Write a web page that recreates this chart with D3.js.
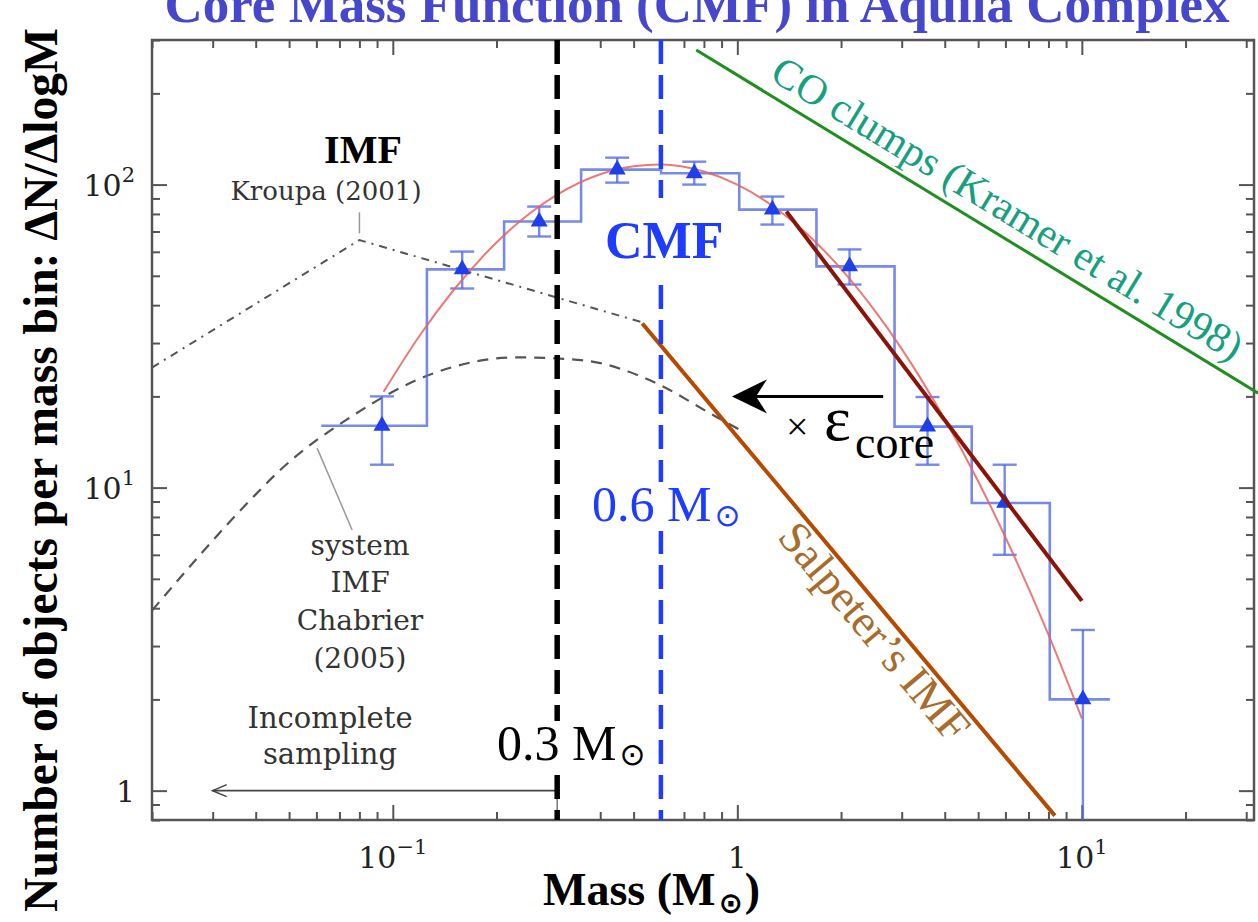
<!DOCTYPE html>
<html>
<head>
<meta charset="utf-8">
<script src="https://cdn.jsdelivr.net/npm/d3@7"></script>
<style>
  body { margin: 0; background: #fff; }
  svg { display: block; }
</style>
</head>
<body>
<svg id="chart" width="1258" height="922"></svg>
<script>
// ---------- data ----------
// CMF histogram (bin edges in solar masses, counts per log-mass bin)
const binEdges  = [0.062, 0.1256, 0.2104, 0.352, 0.601, 1.013, 1.697, 2.86, 4.79, 8.07, 12.06];
const binCounts = [16.0, 52.5, 75.5, 112, 109, 82.7, 53.7, 15.9, 8.9, 2.0];

// CMF points with error bars
const pointMass  = [0.093, 0.159, 0.266, 0.448, 0.75, 1.264, 2.117, 3.565, 5.97, 10.07];
const pointCount = [16.0, 52.5, 75.5, 112, 109, 82.7, 53.7, 15.9, 8.9, 2.0];
const errHigh    = [20.0, 60.1, 84.6, 122.7, 119, 91.3, 61.1, 19.9, 11.9, 3.39];
const errLow     = [11.9, 45.4, 67.4, 101.5, 100, 73.8, 46.8, 11.9, 6.0, 0.5];

// log-normal fit to the CMF
const fitMass  = [0.094, 0.12, 0.15, 0.2, 0.25, 0.3, 0.4, 0.5, 0.6, 0.8, 1.0, 1.3, 1.6, 2, 2.5, 3, 4, 5, 6, 8, 10];
const fitCount = [20.7, 31.9, 44.8, 64.4, 80.4, 92.7, 108.2, 115.0, 116.4, 110.4, 100, 83.2, 68.4, 52.7, 38.5, 28.7, 16.8, 10.5, 6.86, 3.27, 1.73];

// high-mass power law of the CMF
const powerMass  = [1.388, 10];
const powerCount = [81.5, 4.23];

// Salpeter slope
const salpeterMass  = [0.53, 8.35];
const salpeterCount = [34.8, 0.827];

// CO clump mass spectrum
const coMass  = [0.76, 32.5];
const coCount = [278, 20.5];

// Kroupa (2001) IMF
const kroupaMass  = [0.02, 0.08, 0.53];
const kroupaCount = [24.9, 65.6, 35.1];

// Chabrier (2005) system IMF
const chabrierMass  = [0.02, 0.0385, 0.047, 0.0752, 0.1308, 0.2293, 0.3566, 0.558, 0.873, 1.018];
const chabrierCount = [3.93, 9.08, 11.4, 17.06, 23.8, 26.9, 26.3, 22.6, 17.06, 15.5];

// reference masses
const completenessMass = 0.3;
const peakMass = 0.6;

// efficiency arrow (count level, from mass, to mass)
const epsArrow = { count: 20, from: 2.65, to: 0.965 };
// incompleteness arrow
const incompleteArrow = { count: 1, from: 0.3, to: 0.03 };

// axis labels
const xMajor = [0.1, 1, 10];
const xMajorLabels = [["10", "\u22121"], ["1", ""], ["10", "1"]];
const yMajor = [1, 10, 100];
const yMajorLabels = [["1", ""], ["10", "1"], ["10", "2"]];

// ---------- layout ----------
const svg = d3.select("#chart");
const plotL = 152, plotR = 1254, plotT = 40, plotB = 820;

const x = d3.scaleLog().domain([0.02, 31.6]).range([plotL, plotR]);
const y = d3.scaleLog().domain([0.8, 300]).range([plotB, plotT]);

const serif = "'Liberation Serif', 'Times New Roman', serif";
const plotFont = "'DejaVu Serif', serif";
const axisGray = "#555";

// minor tick positions
function minors(domain) {
  const out = [];
  for (let d = -3; d <= 3; d++) {
    for (let k = 2; k <= 9; k++) {
      const v = k * Math.pow(10, d);
      if (v >= domain[0] * 0.999 && v <= domain[1] * 1.001) out.push(v);
    }
  }
  return out;
}
const xMinor = minors(x.domain());
const yMinor = minors(y.domain());

function ticks(axisFn, values, size, transform) {
  svg.append("g")
    .attr("transform", transform)
    .call(axisFn.tickValues(values).tickSize(size).tickSizeOuter(0).tickFormat(""))
    .call(g => g.select(".domain").remove())
    .call(g => g.selectAll("line").attr("stroke", axisGray).attr("stroke-width", 2));
}
ticks(d3.axisBottom(x), xMinor, -8, `translate(0,${plotB})`);
ticks(d3.axisBottom(x), xMajor, -15, `translate(0,${plotB})`);
ticks(d3.axisTop(x), xMinor, -8, `translate(0,${plotT})`);
ticks(d3.axisTop(x), xMajor, -15, `translate(0,${plotT})`);
ticks(d3.axisLeft(y), yMinor, -8, `translate(${plotL},0)`);
ticks(d3.axisLeft(y), yMajor, -15, `translate(${plotL},0)`);
ticks(d3.axisRight(y), yMinor, -8, `translate(${plotR},0)`);
ticks(d3.axisRight(y), yMajor, -15, `translate(${plotR},0)`);

// frame
svg.append("rect")
  .attr("x", plotL).attr("y", plotT)
  .attr("width", plotR - plotL).attr("height", plotB - plotT)
  .attr("fill", "none").attr("stroke", axisGray).attr("stroke-width", 2.5);

// tick labels
xMajor.forEach((v, i) => {
  const t = svg.append("text")
    .attr("x", x(v)).attr("y", 868)
    .attr("text-anchor", "middle")
    .attr("font-family", plotFont).attr("font-size", 30).attr("fill", "#222");
  t.append("tspan").text(xMajorLabels[i][0]);
  if (xMajorLabels[i][1]) t.append("tspan").attr("dy", -14).attr("font-size", 21).text(xMajorLabels[i][1]);
});
yMajor.forEach((v, i) => {
  const t = svg.append("text")
    .attr("x", 135).attr("y", y(v) + 11)
    .attr("text-anchor", "end")
    .attr("font-family", plotFont).attr("font-size", 30).attr("fill", "#222");
  t.append("tspan").text(yMajorLabels[i][0]);
  if (yMajorLabels[i][1]) t.append("tspan").attr("dy", -14).attr("font-size", 21).text(yMajorLabels[i][1]);
});

// axis titles
const xt = svg.append("text")
  .attr("x", 543).attr("y", 905)
  .attr("font-family", serif).attr("font-weight", "bold").attr("font-size", 46).attr("fill", "#000");
xt.append("tspan").text("Mass (M");
xt.append("tspan").attr("dx", 3).attr("dy", 8).attr("font-family", "'DejaVu Sans', sans-serif")
  .attr("font-weight", "bold").attr("font-size", 29).text("\u2299");
xt.append("tspan").attr("dx", 2).attr("dy", -8).text(")");

svg.append("text")
  .attr("transform", "translate(57,470) rotate(-90)")
  .attr("text-anchor", "middle")
  .attr("font-family", serif).attr("font-weight", "bold").attr("font-size", 47.5).attr("fill", "#000")
  .text("Number of objects per mass bin: \u0394N/\u0394logM");

// title (runs off the top edge)
svg.append("text")
  .attr("x", 697).attr("y", 22)
  .attr("text-anchor", "middle")
  .attr("font-family", serif).attr("font-weight", "bold").attr("font-size", 53).attr("fill", "#4747cc")
  .text("Core Mass Function (CMF) in Aquila Complex");

// ---------- reference curves ----------
const line = d3.line().x(d => x(d[0])).y(d => y(d[1]));
const smooth = d3.line().x(d => x(d[0])).y(d => y(d[1])).curve(d3.curveMonotoneX);
const zip = (a, b) => a.map((v, i) => [v, b[i]]);

svg.append("path").datum(zip(chabrierMass, chabrierCount))
  .attr("d", smooth).attr("fill", "none")
  .attr("stroke", "#555").attr("stroke-width", 2.2).attr("stroke-dasharray", "11,8");

svg.append("path").datum(zip(kroupaMass, kroupaCount))
  .attr("d", line).attr("fill", "none")
  .attr("stroke", "#555").attr("stroke-width", 2).attr("stroke-dasharray", "8,6,2,6");

// leader lines for the IMF labels
svg.append("line")
  .attr("x1", x(0.08)).attr("y1", y(69)).attr("x2", x(0.08)).attr("y2", y(81))
  .attr("stroke", "#999").attr("stroke-width", 1.5);
svg.append("line")
  .attr("x1", x(0.0603)).attr("y1", y(13.5)).attr("x2", x(0.0762)).attr("y2", y(7.25))
  .attr("stroke", "#999").attr("stroke-width", 1.5);

// incompleteness arrow
svg.append("line")
  .attr("x1", x(completenessMass)).attr("y1", y(incompleteArrow.count))
  .attr("x2", x(completenessMass)).attr("y2", plotB)
  .attr("stroke", "#777").attr("stroke-width", 1.5);
{
  const ax1 = x(incompleteArrow.from), ax2 = x(incompleteArrow.to), ay = y(incompleteArrow.count);
  svg.append("line").attr("x1", ax1).attr("y1", ay).attr("x2", ax2).attr("y2", ay)
    .attr("stroke", "#444").attr("stroke-width", 1.6);
  svg.append("path")
    .attr("d", `M${ax2 + 14},${ay - 6} L${ax2},${ay} L${ax2 + 14},${ay + 6}`)
    .attr("fill", "none").attr("stroke", "#444").attr("stroke-width", 1.6);
}

// ---------- CMF histogram ----------
const cmfBlue = "rgba(80,105,230,0.78)";
const stepPts = [];
binCounts.forEach((c, i) => {
  stepPts.push([binEdges[i], c]);
  stepPts.push([binEdges[i + 1], c]);
});
svg.append("path").datum(stepPts)
  .attr("d", line).attr("fill", "none")
  .attr("stroke", cmfBlue).attr("stroke-width", 2.6);

// error bars
const eb = svg.append("g").attr("stroke", cmfBlue).attr("stroke-width", 2.4);
pointMass.forEach((m, i) => {
  const px = x(m);
  const yHi = y(errHigh[i]);
  const yLo = Math.min(y(errLow[i]), plotB);
  eb.append("line").attr("x1", px).attr("x2", px).attr("y1", yHi).attr("y2", yLo);
  eb.append("line").attr("x1", px - 12).attr("x2", px + 12).attr("y1", yHi).attr("y2", yHi);
  if (yLo < plotB) eb.append("line").attr("x1", px - 12).attr("x2", px + 12).attr("y1", yLo).attr("y2", yLo);
});

// log-normal fit
svg.append("path").datum(zip(fitMass, fitCount))
  .attr("d", smooth).attr("fill", "none")
  .attr("stroke", "#e8635e").attr("stroke-width", 2).attr("stroke-opacity", 0.85);

// triangles
svg.append("g").selectAll("path")
  .data(zip(pointMass, pointCount))
  .join("path")
  .attr("transform", d => `translate(${x(d[0])},${y(d[1])})`)
  .attr("d", d3.symbol(d3.symbolTriangle, 125))
  .attr("fill", "#1f3fe8");

// ---------- power laws ----------
svg.append("path").datum(zip(salpeterMass, salpeterCount))
  .attr("d", line).attr("stroke", "#b54a00").attr("stroke-width", 4).attr("fill", "none");
svg.append("path").datum(zip(powerMass, powerCount))
  .attr("d", line).attr("stroke", "#8b1409").attr("stroke-width", 4).attr("fill", "none");
svg.append("path").datum(zip(coMass, coCount))
  .attr("d", line).attr("stroke", "#1f8f1f").attr("stroke-width", 3).attr("fill", "none");

// ---------- vertical reference masses ----------
svg.append("line")
  .attr("x1", x(completenessMass)).attr("x2", x(completenessMass))
  .attr("y1", plotT).attr("y2", plotB)
  .attr("stroke", "#000").attr("stroke-width", 5.5).attr("stroke-dasharray", "24,11");
svg.append("line")
  .attr("x1", x(peakMass)).attr("x2", x(peakMass))
  .attr("y1", plotT).attr("y2", plotB)
  .attr("stroke", "#1e3cff").attr("stroke-width", 4.5).attr("stroke-dasharray", "24,11");

// ---------- efficiency arrow ----------
{
  const ax1 = x(epsArrow.from), ax2 = x(epsArrow.to), ay = y(epsArrow.count);
  svg.append("line").attr("x1", ax1).attr("y1", ay).attr("x2", ax2 + 20).attr("y2", ay)
    .attr("stroke", "#000").attr("stroke-width", 3);
  svg.append("path")
    .attr("d", `M${ax2},${ay} L${ax2 + 35},${ay - 17} L${ax2 + 24},${ay} L${ax2 + 35},${ay + 17} Z`)
    .attr("fill", "#000");
}

// ---------- annotations ----------
function label(xp, yp, txt, opts = {}) {
  return svg.append("text")
    .attr("x", xp).attr("y", yp)
    .attr("text-anchor", opts.anchor || "middle")
    .attr("font-family", opts.family || plotFont)
    .attr("font-size", opts.size || 26)
    .attr("font-weight", opts.weight || "normal")
    .attr("fill", opts.fill || "#333")
    .text(txt);
}

label(363, 163, "IMF", { family: serif, weight: "bold", size: 40, fill: "#000" });
label(326, 200, "Kroupa (2001)");
label(360, 555, "system", { size: 28 });
label(360, 592, "IMF", { size: 28 });
label(360, 630, "Chabrier", { size: 28 });
label(360, 668, "(2005)", { size: 28 });
label(330, 728, "Incomplete", { size: 29 });
label(330, 764, "sampling", { size: 29 });

// label with a white backing box
function boxedMassLabel(xp, yp, value, color) {
  const g = svg.append("g");
  const box = g.append("rect").attr("fill", "#fff");
  const t = g.append("text").attr("x", xp).attr("y", yp)
    .attr("font-family", serif).attr("font-size", 50).attr("fill", color);
  t.append("tspan").text(value + " M");
  t.append("tspan").attr("dx", 3).attr("dy", 5).attr("font-family", "'DejaVu Sans', sans-serif")
    .attr("font-size", 31).text("\u2299");
  const b = t.node().getBBox();
  box.attr("x", b.x - 2).attr("y", b.y + 6).attr("width", b.width + 4).attr("height", b.height - 8);
}
boxedMassLabel(497, 760, "0.3", "#000");
boxedMassLabel(592, 521, "0.6", "#1e3cff");

{
  const g = svg.append("g");
  g.append("rect").attr("x", 598).attr("y", 198).attr("width", 130).attr("height", 84).attr("fill", "#fff");
  g.append("text").attr("x", 605).attr("y", 258)
    .attr("font-family", serif).attr("font-weight", "bold").attr("font-size", 52).attr("fill", "#1e3cff")
    .text("CMF");
}

{
  const t = svg.append("text").attr("y", 440)
    .attr("font-family", serif).attr("fill", "#000");
  t.append("tspan").attr("x", 786).attr("font-size", 40).text("\u00d7");
  t.append("tspan").attr("x", 824).attr("font-size", 64).text("\u03b5");
  t.append("tspan").attr("x", 855).attr("font-size", 46).attr("dy", 18).text("core");
}

// text running along a line
function alongLine(mA, nA, mB, nB, frac, offset, txt, size, color) {
  const p1 = [x(mA), y(nA)], p2 = [x(mB), y(nB)];
  const ang = Math.atan2(p2[1] - p1[1], p2[0] - p1[0]);
  const cx = p1[0] + (p2[0] - p1[0]) * frac;
  const cy = p1[1] + (p2[1] - p1[1]) * frac;
  svg.append("text")
    .attr("transform", `translate(${cx},${cy}) rotate(${ang * 180 / Math.PI})`)
    .attr("x", 0).attr("y", offset)
    .attr("text-anchor", "middle")
    .attr("font-family", serif).attr("font-size", size).attr("fill", color)
    .text(txt);
}
alongLine(salpeterMass[0], salpeterCount[0], salpeterMass[1], salpeterCount[1], 0.6, 35,
  "Salpeter\u2019s IMF", 45, "#a86c2c");
alongLine(coMass[0], coCount[0], coMass[1], coCount[1], 0.529, -13,
  "CO clumps (Kramer et al. 1998)", 42, "#17a080");
</script>
</body>
</html>
